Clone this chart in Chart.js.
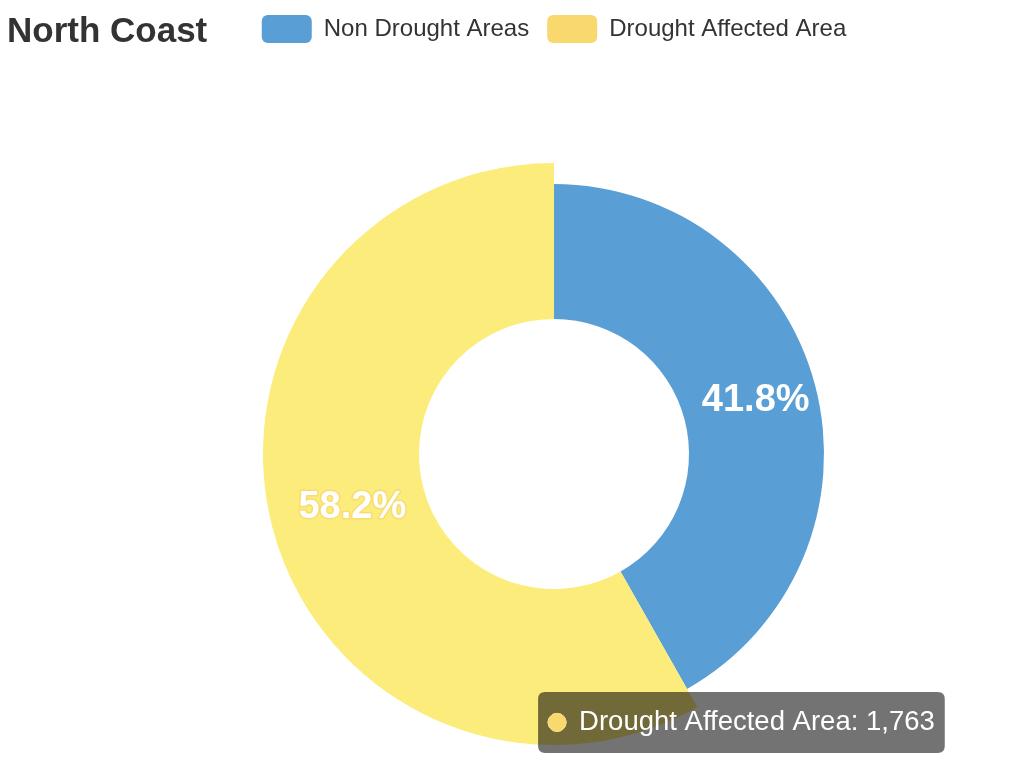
<!DOCTYPE html>
<html>
<head>
<meta charset="utf-8">
<script src="https://cdn.jsdelivr.net/npm/chart.js@4/dist/chart.umd.min.js"></script>
<style>
  html, body { margin: 0; padding: 0; background: #fff; }
  #wrap { width: 1016px; height: 778px; position: relative; }
</style>
</head>
<body>
<div id="wrap"><canvas id="c" width="1016" height="778"></canvas></div>
<script>
// ---- data ----
const chartTitle = 'North Coast';
const categories = ['Non Drought Areas', 'Drought Affected Area'];
const values = [1266, 1763];
const colors = ['#599FD5', '#F9D86E'];
const hoverColors = ['#599FD5', '#FBEC7C'];
const activeIndex = 1;

const FONT = "'Liberation Sans', Arial, Helvetica, sans-serif";
Chart.defaults.font.family = FONT;
Chart.defaults.color = '#333';

Chart.Tooltip.positioners.atEvent = function (items, eventPosition) {
  if (!items.length) return false;
  return { x: eventPosition.x, y: eventPosition.y };
};

const titlePlugin = {
  id: 'cornerTitle',
  afterDraw(chart) {
    const ctx = chart.ctx;
    ctx.save();
    ctx.font = 'bold 35px ' + FONT;
    ctx.fillStyle = '#333';
    ctx.textAlign = 'left';
    ctx.textBaseline = 'alphabetic';
    ctx.fillText(chartTitle, 7, 42);
    ctx.restore();
  }
};

const legendSpacer = {
  id: 'legendSpacer',
  beforeInit(chart) {
    const fit = chart.legend.fit;
    chart.legend.fit = function () {
      fit.bind(chart.legend)();
      this.height = 187;
    };
  }
};

const arcPlugin = {
  id: 'arcPlugin',
  beforeDatasetsDraw(chart) {
    chart.getActiveElements().forEach(a => {
      const el = a.element;
      el._baseOuter = el.outerRadius;
      el.outerRadius = el.outerRadius * (291 / 270);
    });
  },
  afterDatasetsDraw(chart) {
    chart.getActiveElements().forEach(a => {
      const el = a.element;
      if (el._baseOuter !== undefined) { el.outerRadius = el._baseOuter; delete el._baseOuter; }
    });
    const meta = chart.getDatasetMeta(0);
    const data = chart.data.datasets[0].data;
    const total = data.reduce((s, v) => s + v, 0);
    const ctx = chart.ctx;
    ctx.save();
    ctx.font = 'bold 38px ' + FONT;
    ctx.textAlign = 'center';
    ctx.textBaseline = 'middle';
    meta.data.forEach((el, i) => {
      const mid = (el.startAngle + el.endAngle) / 2;
      const r = el.innerRadius + (el.outerRadius - el.innerRadius) * 0.545;
      const x = el.x + Math.cos(mid) * r;
      const y = el.y + Math.sin(mid) * r;
      const txt = (data[i] / total * 100).toFixed(1) + '%';
      if (i === activeIndex) {
        ctx.lineWidth = 3;
        ctx.strokeStyle = 'rgba(249,216,110,0.8)';
        ctx.lineJoin = 'round';
        ctx.strokeText(txt, x, y);
      }
      ctx.fillStyle = '#fff';
      ctx.fillText(txt, x, y);
    });
    ctx.restore();
  }
};

const chart = new Chart(document.getElementById('c'), {
  type: 'doughnut',
  data: {
    labels: categories,
    datasets: [{
      data: values,
      backgroundColor: colors,
      hoverBackgroundColor: hoverColors,
      borderColor: colors,
      hoverBorderColor: hoverColors,
      borderWidth: 0,
      hoverBorderWidth: 0,
      hoverOffset: 0,
      offset: 0
    }]
  },
  options: {
    responsive: false,
    animation: false,
    cutout: '50%',
    events: [],
    layout: { padding: { left: 92, right: 0, top: -3, bottom: 54 } },
    plugins: {
      title: { display: false },
      legend: {
        position: 'top',
        align: 'center',
        labels: {
          boxWidth: 50,
          boxHeight: 28,
          padding: 18,
          color: '#333',
          font: { size: 24 },
          generateLabels(ch) {
            const ds = ch.data.datasets[0];
            return ch.data.labels.map((l, i) => ({
              text: l,
              fillStyle: ds.backgroundColor[i],
              strokeStyle: ds.backgroundColor[i],
              lineWidth: 0,
              borderRadius: 6,
              fontColor: '#333',
              hidden: !ch.getDataVisibility(i),
              index: i
            }));
          }
        }
      },
      tooltip: {
        enabled: true,
        position: 'atEvent',
        xAlign: 'left',
        yAlign: 'center',
        caretSize: 0,
        caretPadding: 0,
        backgroundColor: 'rgba(0,0,0,0.55)',
        cornerRadius: 7,
        padding: { left: 10, right: 10, top: 14, bottom: 14 },
        bodyFont: { size: 27.5 },
        bodyColor: '#fff',
        displayColors: true,
        usePointStyle: true,
        boxWidth: 18,
        boxHeight: 18,
        boxPadding: 11,
        callbacks: {
          title: () => '',
          label: (c) => c.label + ': ' + c.formattedValue
        }
      }
    }
  },
  plugins: [legendSpacer, arcPlugin, titlePlugin]
});

const el = chart.getDatasetMeta(0).data[activeIndex];
const R = el.outerRadius;
chart.setActiveElements([{ datasetIndex: 0, index: activeIndex }]);
chart.tooltip.setActiveElements([{ datasetIndex: 0, index: activeIndex }],
  { x: el.x - R * 0.059, y: el.y + R * 0.994 });
chart.update();
</script>
</body>
</html>
